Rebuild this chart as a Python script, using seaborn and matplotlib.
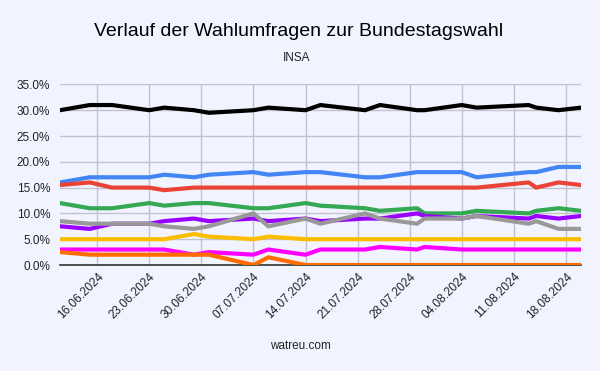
import matplotlib
matplotlib.use('Agg')
import matplotlib.pyplot as plt
import matplotlib.dates as mdates
import matplotlib.ticker as mticker
import pandas as pd
import seaborn as sns

# Umfragetermine (INSA) und Werte in Prozent
dates = ['2024-06-11', '2024-06-15', '2024-06-18', '2024-06-23', '2024-06-25',
         '2024-06-29', '2024-07-01', '2024-07-07', '2024-07-09', '2024-07-14',
         '2024-07-16', '2024-07-22', '2024-07-24', '2024-07-29', '2024-07-30',
         '2024-08-04', '2024-08-06', '2024-08-13', '2024-08-14', '2024-08-17',
         '2024-08-20']

cdu = [30, 31, 31, 30, 30.5, 30, 29.5, 30, 30.5, 30, 31, 30, 31, 30, 30, 31, 30.5, 31, 30.5, 30, 30.5]
afd = [16, 17, 17, 17, 17.5, 17, 17.5, 18, 17.5, 18, 18, 17, 17, 18, 18, 18, 17, 18, 18, 19, 19]
spd = [15.5, 16, 15, 15, 14.5, 15, 15, 15, 15, 15, 15, 15, 15, 15, 15, 15, 15, 16, 15, 16, 15.5]
gruene = [12, 11, 11, 12, 11.5, 12, 12, 11, 11, 12, 11.5, 11, 10.5, 11, 10, 10, 10.5, 10, 10.5, 11, 10.5]
bsw = [7.5, 7, 8, 8, 8.5, 9, 8.5, 9, 8.5, 9, 8.5, 9, 9, 10, 9.5, 9, 9.5, 9, 9.5, 9, 9.5]
fdp = [5, 5, 5, 5, 5, 6, 5.5, 5, 5.5, 5, 5, 5, 5, 5, 5, 5, 5, 5, 5, 5, 5]
linke = [3, 3, 3, 3, 3, 2, 2.5, 2, 3, 2, 3, 3, 3.5, 3, 3.5, 3, 3, 3, 3, 3, 3]
fw = [2.5, 2, 2, 2, 2, 2, 2, 0, 1.5, 0, 0, 0, 0, 0, 0, 0, 0, 0, 0, 0, 0]
sonstige = [8.5, 8, 8, 8, 7.5, 7, 7.5, 10, 7.5, 9, 8, 10, 9, 8, 9, 9, 9.5, 8, 8.5, 7, 7]

parties = ['CDU/CSU', 'AfD', 'SPD', 'Grüne', 'BSW', 'FDP', 'Linke', 'Freie Wähler', 'Sonstige']
colors = ['#000000', '#4285f4', '#ea4335', '#34a853', '#9900ff', '#fbbc04', '#ff00ff', '#ff6d01', '#999999']

tick_dates = ['2024-06-16', '2024-06-23', '2024-06-30', '2024-07-07', '2024-07-14',
              '2024-07-21', '2024-07-28', '2024-08-04', '2024-08-11', '2024-08-18']

df = pd.DataFrame({'Datum': pd.to_datetime(dates), 'CDU/CSU': cdu, 'AfD': afd, 'SPD': spd,
                   'Grüne': gruene, 'BSW': bsw, 'FDP': fdp, 'Linke': linke,
                   'Freie Wähler': fw, 'Sonstige': sonstige})
long_df = df.melt(id_vars='Datum', var_name='Partei', value_name='Wert')

bg = '#f1f4ff'
sns.set_style('whitegrid', {'axes.facecolor': bg, 'figure.facecolor': bg,
                            'grid.color': '#c2c3cf', 'axes.edgecolor': '#333333'})
plt.rcParams['font.family'] = ['Liberation Sans', 'DejaVu Sans']

fig = plt.figure(figsize=(6, 3.71), dpi=100)
ax = fig.add_axes([0.1, 0.2857, 0.868, 0.4868])

sns.lineplot(data=long_df, x='Datum', y='Wert', hue='Partei', hue_order=parties,
             palette=colors, linewidth=3, legend=False, ax=ax)
# Linien über der Nulllinie zeichnen
for line in ax.get_lines():
    line.set_zorder(3)

ax.set_ylim(0, 35)
ax.set_xlim(pd.to_datetime(dates[0]), pd.to_datetime(dates[-1]))
ax.yaxis.set_major_locator(mticker.MultipleLocator(5))
ax.yaxis.set_major_formatter(mticker.FuncFormatter(lambda v, p: f'{v:.1f}%'))
ax.set_xticks(pd.to_datetime(tick_dates))
ax.xaxis.set_major_formatter(mdates.DateFormatter('%d.%m.%Y'))
ax.grid(True, linewidth=1)
ax.set_xlabel('')
ax.set_ylabel('')

for side in ['left', 'right', 'top']:
    ax.spines[side].set_visible(False)
ax.spines['bottom'].set_color('#333333')
ax.spines['bottom'].set_linewidth(1.2)
ax.spines['bottom'].set_zorder(2.5)

ax.tick_params(axis='y', length=0, pad=7, labelsize=8.5, labelcolor='#222222')
ax.tick_params(axis='x', length=0, pad=4, labelsize=8.5, labelcolor='#222222')
for lbl in ax.get_xticklabels():
    lbl.set_rotation(45)
    lbl.set_ha('right')
    lbl.set_rotation_mode('anchor')

fig.text(0.498, 0.916, 'Verlauf der Wahlumfragen zur Bundestagswahl', ha='center', va='center',
         fontsize=14, color='#000000')
fig.text(0.495, 0.843, 'INSA', ha='center', va='center', fontsize=8.5, color='#222222')
fig.text(0.5, 0.068, 'watreu.com', ha='center', va='center', fontsize=8.5, color='#222222')

fig.savefig('out.png', dpi=100, facecolor=bg)
